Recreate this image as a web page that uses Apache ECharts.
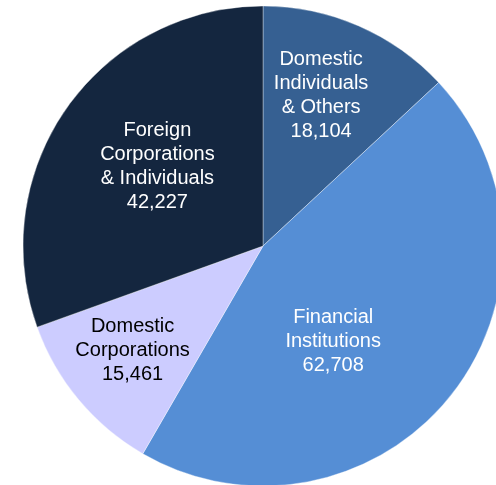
<!DOCTYPE html>
<html>
<head>
<meta charset="utf-8">
<script src="https://cdn.jsdelivr.net/npm/echarts@6/dist/echarts.min.js"></script>
<style>
  html, body { margin: 0; padding: 0; background: #ffffff; }
  #chart { width: 496px; height: 485px; }
</style>
</head>
<body>
<div id="chart"></div>
<script>
// Shareholder groups, clockwise from 12 o'clock
const categories = [
  'Domestic\nIndividuals\n& Others',
  'Financial\nInstitutions',
  'Domestic\nCorporations',
  'Foreign\nCorporations\n& Individuals'
];
const values = [18104, 62708, 15461, 42227];

const sliceColors = ['#366092', '#558ED5', '#CCCCFF', '#14263F'];
const labelColors = ['#ffffff', '#ffffff', '#000000', '#ffffff'];
// Nudges applied to each label from its default inside position
const labelShift = [[9, -38], [-26, 19], [-36, 26], [-5, -9]];

const fmt = v => v.toLocaleString('en-US');

const chart = echarts.init(document.getElementById('chart'), null, { renderer: 'canvas' });
chart.setOption({
  animation: false,
  backgroundColor: '#ffffff',
  series: [{
    type: 'pie',
    center: [263, 246],
    radius: [0, 240],
    startAngle: 90,
    clockwise: true,
    avoidLabelOverlap: false,
    itemStyle: { borderColor: 'rgba(255,255,255,0.6)', borderWidth: 0.6 },
    label: {
      show: true,
      position: 'inside',
      fontFamily: '"Liberation Sans", Arial, sans-serif',
      fontSize: 20,
      lineHeight: 24,
      align: 'center',
      formatter: p => p.name + '\n' + fmt(p.value)
    },
    labelLine: { show: false },
    emphasis: { disabled: true },
    labelLayout: p => ({ dx: labelShift[p.dataIndex][0], dy: labelShift[p.dataIndex][1] }),
    data: categories.map((name, i) => ({
      name: name,
      value: values[i],
      itemStyle: { color: sliceColors[i] },
      label: { color: labelColors[i] }
    }))
  }]
});
</script>
</body>
</html>
